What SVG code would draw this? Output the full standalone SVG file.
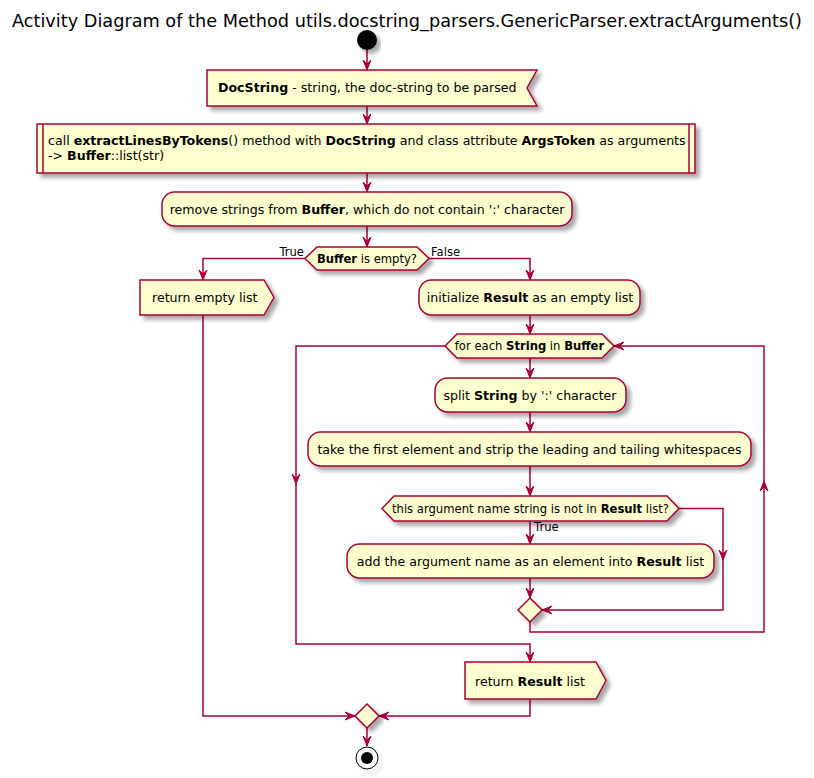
<svg xmlns="http://www.w3.org/2000/svg" width="814" height="778" viewBox="0 0 814 778">
<style>
.n{fill:#FEFECE;stroke:#A80036;stroke-width:1.5;filter:url(#sh)}
.l{fill:none;stroke:#A80036;stroke-width:1.5}
.a{fill:#A80036;stroke:#A80036;stroke-width:1}
text{font-family:"DejaVu Sans","Liberation Sans",sans-serif;fill:#000000}
.t12{font-size:12.6px}
.t11{font-size:11.6px}
.b{font-weight:bold}
</style>
<defs>
<filter id="sh" x="-10%" y="-20%" width="130%" height="160%">
<feGaussianBlur in="SourceAlpha" stdDeviation="2"/>
<feOffset dx="4" dy="4" result="o"/>
<feComponentTransfer><feFuncA type="linear" slope="0.35"/></feComponentTransfer>
<feMerge><feMergeNode/><feMergeNode in="SourceGraphic"/></feMerge>
</filter>
<path id="ad" d="M-4,-10 L0,0 L4,-10 L0,-6 Z"/>
</defs>
<rect width="814" height="778" fill="#FFFFFF"/>
<text x="407" y="27" text-anchor="middle" style="font-size:17px" textLength="790" lengthAdjust="spacingAndGlyphs">Activity Diagram of the Method utils.docstring_parsers.GenericParser.extractArguments()</text>

<g id="connectors">
<path class="l" d="M367,50 V70"/>
<path class="l" d="M367,106 V124"/>
<path class="l" d="M367,173 V192"/>
<path class="l" d="M367,226 V247"/>
<path class="l" d="M305,258.5 H203 V280"/>
<path class="l" d="M429,258.5 H530 V280"/>
<path class="l" d="M530,315 V334"/>
<path class="l" d="M530,358 V378"/>
<path class="l" d="M530,412 V432"/>
<path class="l" d="M530,466 V496"/>
<path class="l" d="M530,521 V544"/>
<path class="l" d="M530,578 V598"/>
<path class="l" d="M679,508.5 H723 V610 H542"/>
<path class="l" d="M530,622 V632 H764 V346 H614"/>
<path class="l" d="M445,346 H296 V644 H530 V662"/>
<path class="l" d="M203,315 V716 H355"/>
<path class="l" d="M530,699 V716 H379"/>
<path class="l" d="M367,728 V746"/>
<use href="#ad" class="a" transform="translate(367,70)"/>
<use href="#ad" class="a" transform="translate(367,124)"/>
<use href="#ad" class="a" transform="translate(367,192)"/>
<use href="#ad" class="a" transform="translate(367,247)"/>
<use href="#ad" class="a" transform="translate(203,280)"/>
<use href="#ad" class="a" transform="translate(530,280)"/>
<use href="#ad" class="a" transform="translate(530,334)"/>
<use href="#ad" class="a" transform="translate(530,378)"/>
<use href="#ad" class="a" transform="translate(530,432)"/>
<use href="#ad" class="a" transform="translate(530,496)"/>
<use href="#ad" class="a" transform="translate(530,544)"/>
<use href="#ad" class="a" transform="translate(530,598)"/>
<use href="#ad" class="a" transform="translate(723,560)"/>
<use href="#ad" class="a" transform="translate(542,610) rotate(90)"/>
<use href="#ad" class="a" transform="translate(764,481) rotate(180)"/>
<use href="#ad" class="a" transform="translate(614,346) rotate(90)"/>
<use href="#ad" class="a" transform="translate(296,484)"/>
<use href="#ad" class="a" transform="translate(530,662)"/>
<use href="#ad" class="a" transform="translate(355,716) rotate(-90)"/>
<use href="#ad" class="a" transform="translate(379,716) rotate(90)"/>
<use href="#ad" class="a" transform="translate(367,746)"/>
<text class="t11" x="304" y="256" text-anchor="end">True</text>
<text class="t11" x="431" y="256">False</text>
<text class="t11" x="534" y="531">True</text>
</g>

<g id="start"><circle cx="367" cy="40" r="10" fill="#000000" style="filter:url(#sh)"/></g>

<g id="docstring">
<path class="n" d="M207,70 H537 L527,88 L537,106 H207 Z"/>
<text class="t12" x="218" y="92"><tspan class="b">DocString</tspan> - string, the doc-string to be parsed</text>
</g>

<g id="extractLines">
<rect class="n" x="37" y="124" width="658" height="49"/>
<path class="l" d="M43,124 V173 M689,124 V173"/>
<text class="t12" x="48" y="145">call <tspan class="b">extractLinesByTokens</tspan>() method with <tspan class="b">DocString</tspan> and class attribute <tspan class="b">ArgsToken</tspan> as arguments</text>
<text class="t12" x="48" y="160">-&gt; <tspan class="b">Buffer</tspan>::list(str)</text>
</g>

<g id="removeStrings">
<rect class="n" x="162" y="192" width="410" height="34" rx="12.5"/>
<text class="t12" x="367" y="214" text-anchor="middle">remove strings from <tspan class="b">Buffer</tspan>, which do not contain ':' character</text>
</g>

<g id="bufferEmpty">
<path class="n" d="M317,247 H417 L429,258.5 L417,270 H317 L305,258.5 Z"/>
<text class="t11" x="367" y="263" text-anchor="middle"><tspan class="b">Buffer</tspan> is empty?</text>
</g>

<g id="returnEmpty">
<path class="n" d="M140,280 H264 L274,297.5 L264,315 H140 Z"/>
<text class="t12" x="152" y="302">return empty list</text>
</g>

<g id="initResult">
<rect class="n" x="419" y="280" width="221" height="35" rx="12.5"/>
<text class="t12" x="530" y="302" text-anchor="middle">initialize <tspan class="b">Result</tspan> as an empty list</text>
</g>

<g id="forEach">
<path class="n" d="M457,334 H602 L614,346 L602,358 H457 L445,346 Z"/>
<text class="t11" x="529.5" y="350" text-anchor="middle">for each <tspan class="b">String</tspan> in <tspan class="b">Buffer</tspan></text>
</g>

<g id="split">
<rect class="n" x="435" y="378" width="191" height="34" rx="12.5"/>
<text class="t12" x="530" y="400" text-anchor="middle">split <tspan class="b">String</tspan> by ':' character</text>
</g>

<g id="takeFirst">
<rect class="n" x="308" y="432" width="443" height="34" rx="12.5"/>
<text class="t12" x="529.5" y="454" text-anchor="middle">take the first element and strip the leading and tailing whitespaces</text>
</g>

<g id="notInResult">
<path class="n" d="M394,496 H667 L679,508.5 L667,521 H394 L382,508.5 Z"/>
<text class="t11" x="530.5" y="513" text-anchor="middle">this argument name string is not in <tspan class="b">Result</tspan> list?</text>
</g>

<g id="addArg">
<rect class="n" x="347" y="544" width="367" height="34" rx="12.5"/>
<text class="t12" x="530.5" y="566" text-anchor="middle">add the argument name as an element into <tspan class="b">Result</tspan> list</text>
</g>

<g id="mergeInner">
<path class="n" d="M530,598 L542,610 L530,622 L518,610 Z"/>
</g>

<g id="returnResult">
<path class="n" d="M465,662 H596 L606,680.5 L596,699 H465 Z"/>
<text class="t12" x="475" y="686">return <tspan class="b">Result</tspan> list</text>
</g>

<g id="mergeFinal">
<path class="n" d="M367,704 L379,716 L367,728 L355,716 Z"/>
</g>

<g id="end">
<circle cx="367" cy="758" r="11" fill="none" stroke="#000000" stroke-width="1" style="filter:url(#sh)"/>
<circle cx="367" cy="758" r="6" fill="#000000"/>
</g>
</svg>
